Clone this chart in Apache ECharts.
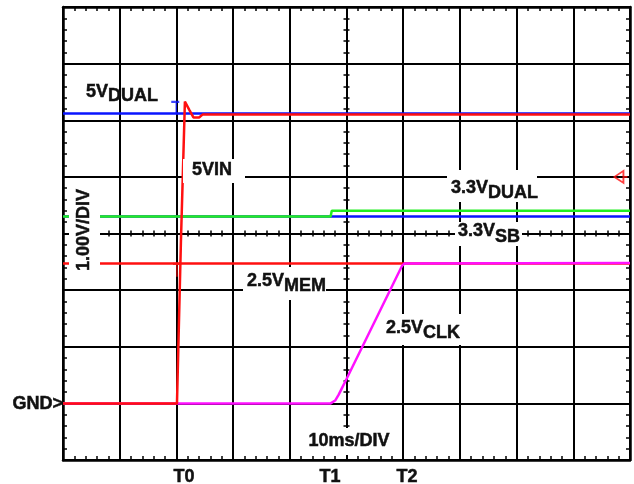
<!DOCTYPE html>
<html><head><meta charset="utf-8">
<script src="https://cdn.jsdelivr.net/npm/echarts@6/dist/echarts.min.js"></script>
<style>html,body{margin:0;padding:0;background:#fff}#c{width:634px;height:484px}</style>
</head><body><div id="c"></div>
<script>
// time in ms (10 ms/div), voltage in V (1.00 V/div), GND = 0 V
const timeRange = [0, 100];
const voltRange = [-1, 7];
const dual5V   = [[0, 5.12], [100, 5.12]];                       // 5V DUAL (blue)
const vin5V    = [[0, 0], [20.1, 0], [20.8, 2.87], [21.5, 5.33], [22.3, 5.18],
                  [23.0, 5.05], [24.0, 5.05], [24.6, 5.1], [100, 5.1]]; // 5VIN (red)
const sb33V    = [[0, 3.3], [100, 3.3]];                         // 3.3V SB (blue)
const dual33V  = [[0, 3.3], [47.2, 3.3], [47.4, 3.4], [100, 3.4]]; // 3.3V DUAL (green)
const mem25V   = [[0, 2.47], [100, 2.47]];                       // 2.5V MEM (red)
const clk25V   = [[0, 0], [47.2, 0], [48.0, 0.05], [48.6, 0.15], [49.2, 0.27], [50, 0.43],
                  [55, 1.45], [59.8, 2.43], [60.2, 2.47], [100, 2.48]]; // 2.5V CLK (magenta)
const trigLevel = [[98.4, 4]];
const cursorBlue = [[19.8, 5.22]];
const cursorRed = [[20.1, 2.35]];
const cursorMag = [[20.0, 0.25]];
const timeMarks = ['T0', 'T1', 'T2'];

const FONT = 'bold 18px "Liberation Sans", Arial, sans-serif';
const chart = echarts.init(document.getElementById('c'), null, {renderer: 'canvas'});

const G = {left: 63, right: 4, top: 7, bottom: 24};
function borderX(pos) {
  return {gridIndex: 0, type: 'value', position: pos, min: timeRange[0], max: timeRange[1], interval: 10,
    axisLine: {show: true, onZero: false, lineStyle: {color: '#000', width: 2.5}},
    axisTick: {show: true, inside: true, length: 4, lineStyle: {color: '#000', width: 1.5}},
    minorTick: {show: true, splitNumber: 5, length: 4, lineStyle: {color: '#000', width: 1.5}},
    axisLabel: {show: false},
    splitLine: {show: pos === 'bottom', lineStyle: {color: '#000', width: 2}}};
}
function borderY(pos) {
  return {gridIndex: 0, type: 'value', position: pos, min: voltRange[0], max: voltRange[1], interval: 1,
    axisLine: {show: true, onZero: false, lineStyle: {color: '#000', width: 2.5}},
    axisTick: {show: true, inside: true, length: 4, lineStyle: {color: '#000', width: 1.5}},
    minorTick: {show: true, splitNumber: 5, length: 4, lineStyle: {color: '#000', width: 1.5}},
    axisLabel: {show: false},
    splitLine: {show: pos === 'left', lineStyle: {color: '#000', width: 2}}};
}
function centerX(gi, inside) {
  return {gridIndex: gi, type: 'value', min: -50, max: 50, interval: 10,
    axisLine: {show: true, onZero: true, lineStyle: {color: '#000', width: 2}},
    axisTick: {show: true, inside: inside, length: 3, lineStyle: {color: '#000', width: 1.5}},
    minorTick: {show: true, splitNumber: 5, length: 3, lineStyle: {color: '#000', width: 1.5}},
    axisLabel: {show: false}, splitLine: {show: false}};
}
function centerY(gi, inside) {
  return {gridIndex: gi, type: 'value', min: -4, max: 4, interval: 1,
    axisLine: {show: true, onZero: true, lineStyle: {color: '#000', width: 2}},
    axisTick: {show: true, inside: inside, length: 3, lineStyle: {color: '#000', width: 1.5}},
    minorTick: {show: true, splitNumber: 5, length: 3, lineStyle: {color: '#000', width: 1.5}},
    axisLabel: {show: false}, splitLine: {show: false}};
}
function line(name, data, color, z) {
  return {name, type: 'line', data, xAxisIndex: 0, yAxisIndex: 0, showSymbol: false, symbol: 'none',
    lineStyle: {color, width: 2.5}, z, animation: false};
}
function mark(data, path, size, color, z) {
  return {type: 'scatter', data, xAxisIndex: 0, yAxisIndex: 0, z, symbol: path, symbolSize: size,
    itemStyle: {color: 'rgba(0,0,0,0)', borderColor: color, borderWidth: 1.8}, animation: false};
}

chart.setOption({
  animation: false,
  backgroundColor: '#fff',
  grid: [G, G, G].map(g => Object.assign({}, g)),
  xAxis: [borderX('bottom'), borderX('top'), centerX(1, false), centerX(2, true)],
  yAxis: [borderY('left'), borderY('right'), centerY(1, false), centerY(2, true)],
  series: [
    line('5V DUAL', dual5V, '#0a14ff', 3),
    line('3.3V SB', sb33V, '#0a14ff', 3),
    line('3.3V DUAL', dual33V, '#22ee22', 4),
    line('2.5V MEM', mem25V, '#ff1010', 4),
    line('2.5V CLK', clk25V, '#ff10ff', 5),
    line('5VIN', vin5V, '#ff1010', 6),
    mark(trigLevel, 'path://M0,6 L9,0 L9,12 Z M9,6 L13,6', [13, 12], '#ff1010', 6),
    mark(cursorBlue, 'path://M0,0 L8,0 M5,0 L5,14', [8, 12], '#0a14ff', 5),
    mark(cursorRed, 'path://M0,0 L8,0 M4,0 L4,14', [8, 13], '#ff1010', 5),
    mark(cursorMag, 'path://M0,0 L10,0', [9, 2], '#ff10ff', 5)
  ]
});

// annotation labels (white boxes that hide the graticule under them)
const g = [];
function box(x1, y1, x2, y2) {
  g.push({type: 'rect', z: 100, zlevel: 0, shape: {x: x1, y: y1, width: x2 - x1, height: y2 - y1}, style: {fill: '#fff'}});
}
function txt(s, x, y, opt) {
  g.push(Object.assign({type: 'text', z: 101, x, y,
    style: Object.assign({text: s, font: FONT, fill: '#111', stroke: '#111', lineWidth: 0.5,
      align: 'left', verticalAlign: 'middle'}, opt || {})}));
}
function sub(main, subs, x, y, dy) {
  txt(main, x, y);
  const w = echarts.format.getTextRect ? echarts.format.getTextRect(main, FONT).width : main.length * 10;
  txt(subs, x + w, y + dy);
}
// 5V DUAL
sub('5V', 'DUAL', 86, 92, 4);
// 5VIN
box(183, 159, 245, 183); txt('5VIN', 192, 170);
// 3.3V DUAL
box(447, 170, 537, 202); sub('3.3V', 'DUAL', 451, 188, 5);
// 3.3V SB
box(455, 222, 522, 246); sub('3.3V', 'SB', 458, 231, 6);
// 1.00V/DIV (vertical)
box(69, 188, 100, 272);
g.push({type: 'text', z: 101, x: 84, y: 230, rotation: Math.PI / 2,
  style: {text: '1.00V/DIV', font: FONT, fill: '#111', stroke: '#111', lineWidth: 0.5,
    align: 'center', verticalAlign: 'middle'}});
// 2.5V MEM
box(243, 267, 326, 300); sub('2.5V', 'MEM', 247, 281, 5);
// 2.5V CLK
box(382, 314, 461, 345); sub('2.5V', 'CLK', 386, 328, 5);
// 10ms/DIV
box(300, 428, 397, 455); txt('10ms/DIV', 349, 441, {align: 'center'});
// GND>
txt('GND>', 63, 404, {align: 'right'});
// T marks
[[184, timeMarks[0]], [330, timeMarks[1]], [407, timeMarks[2]]].forEach(([x, s]) => txt(s, x, 477, {align: 'center'}));

chart.setOption({graphic: g});
</script></body></html>
